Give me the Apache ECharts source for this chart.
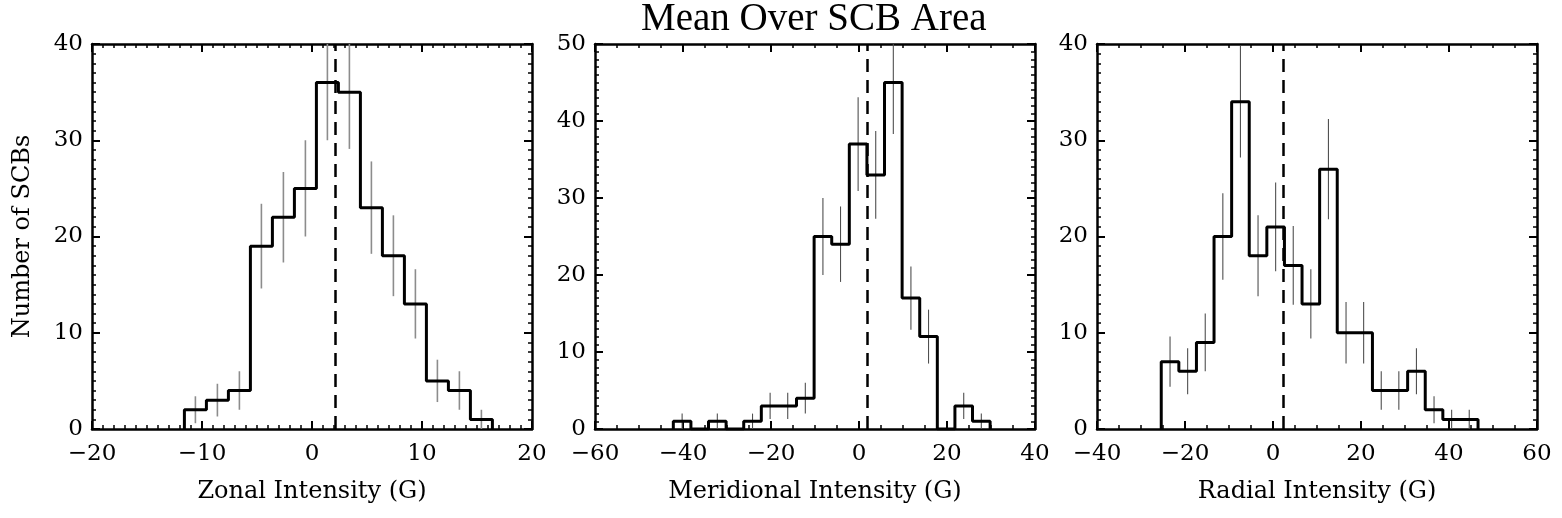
<!DOCTYPE html>
<html>
<head>
<meta charset="utf-8">
<script src="https://cdn.jsdelivr.net/npm/echarts@6/dist/echarts.min.js"></script>
<style>
  html, body { margin: 0; padding: 0; background: #fff; }
  #chart { width: 1562px; height: 518px; }
</style>
</head>
<body>
<div id="chart"></div>
<script>
// histogram bin edges, counts and error bar half-lengths
const zonalEdges = [-11.6, -9.6, -7.6, -5.6, -3.6, -1.6, 0.4, 2.4, 4.4, 6.4, 8.4, 10.4, 12.4, 14.4, 16.4];
const zonalCounts = [2, 3, 4, 19, 22, 25, 36, 35, 23, 18, 13, 5, 4, 1];
const zonalErr = [1.4, 1.7, 2.0, 4.4, 4.7, 5.0, 6.0, 5.9, 4.8, 4.2, 3.6, 2.2, 2.0, 1.0];

const meridEdges = [-42.2, -38.2, -34.2, -30.2, -26.2, -22.2, -18.2, -14.2, -10.2, -6.2, -2.2, 1.8, 5.8, 9.8, 13.8, 17.8, 21.8, 25.8, 29.8];
const meridCounts = [1, 0, 1, 0, 1, 3, 3, 4, 25, 24, 37, 33, 45, 17, 12, 0, 3, 1];
const meridErr = [1.0, 0, 1.0, 0, 1.0, 1.7, 1.7, 2.0, 5.0, 4.9, 6.1, 5.7, 6.7, 4.1, 3.5, 0, 1.7, 1.0];

const radEdges = [-25.4, -21.4, -17.4, -13.4, -9.4, -5.4, -1.4, 2.6, 6.6, 10.6, 14.6, 18.6, 22.6, 26.6, 30.6, 34.6, 38.6, 42.6, 46.6];
const radCounts = [7, 6, 9, 20, 34, 18, 21, 17, 13, 27, 10, 10, 4, 4, 6, 2, 1, 1];
const radErr = [2.6, 2.4, 3.0, 4.5, 5.8, 4.2, 4.6, 4.1, 3.6, 5.2, 3.2, 3.2, 2.0, 2.0, 2.4, 1.4, 1.0, 1.0];

// dashed line positions (mean values)
const meanLines = [2.1, 1.8, 2.4];

const xNames = ['Zonal Intensity (G)', 'Meridional Intensity (G)', 'Radial Intensity (G)'];
const xRanges = [[-20, 20, 10, 10], [-60, 40, 20, 4], [-40, 60, 20, 4]];   // min, max, interval, minor splits
const yRanges = [[0, 40, 10], [0, 50, 10], [0, 40, 10]];

const panels = [
    {edges: zonalEdges, counts: zonalCounts, err: zonalErr, barColor: '#8c8c8c', barWidth: 1.6},
    {edges: meridEdges, counts: meridCounts, err: meridErr, barColor: '#505050', barWidth: 1.1},
    {edges: radEdges, counts: radCounts, err: radErr, barColor: '#505050', barWidth: 1.1}
];

const gridLefts = [92, 595, 1097];
const FONT = 'DejaVu Serif';

const fmt = v => String(v).replace('-', '\u2212');

const chart = echarts.init(document.getElementById('chart'));

const grids = [], xAxes = [], yAxes = [], series = [];

panels.forEach((p, i) => {
    grids.push({left: gridLefts[i], top: 44, width: 440, height: 385, outerBoundsMode: 'none', containLabel: false});

    const [xmin, xmax, xint, xminor] = xRanges[i];
    const [ymin, ymax, yint] = yRanges[i];

    const tick = {show: true, inside: true, length: 8, lineStyle: {color: '#000', width: 2}};
    const minor = n => ({show: true, splitNumber: n, length: 4, lineStyle: {color: '#000', width: 1.5}});
    const line = {show: true, onZero: false, lineStyle: {color: '#000', width: 2.5}};

    // bottom + top x axes
    xAxes.push({
        type: 'value', gridIndex: i, position: 'bottom', min: xmin, max: xmax, interval: xint,
        axisLine: line, axisTick: tick, minorTick: minor(xminor), splitLine: {show: false},
        axisLabel: {show: true, showMinLabel: true, showMaxLabel: true, formatter: fmt,
            fontFamily: FONT, fontSize: 23, color: '#000', margin: 14},
        name: xNames[i], nameLocation: 'middle', nameGap: 51,
        nameTextStyle: {fontFamily: FONT, fontSize: 24, color: '#000'}
    });
    xAxes.push({
        type: 'value', gridIndex: i, position: 'top', min: xmin, max: xmax, interval: xint,
        axisLine: line, axisTick: tick, minorTick: minor(xminor), splitLine: {show: false},
        axisLabel: {show: false}
    });

    // left + right y axes
    const yLeft = {
        type: 'value', gridIndex: i, position: 'left', min: ymin, max: ymax, interval: yint,
        axisLine: line, axisTick: tick, minorTick: minor(10), splitLine: {show: false},
        axisLabel: {show: true, showMinLabel: true, showMaxLabel: true, formatter: fmt,
            fontFamily: FONT, fontSize: 23, color: '#000', margin: 9}
    };
    if (i === 0) {
        yLeft.name = 'Number of SCBs';
        yLeft.nameLocation = 'middle';
        yLeft.nameGap = 57;
        yLeft.nameTextStyle = {fontFamily: FONT, fontSize: 24, color: '#000'};
    }
    yAxes.push(yLeft);
    yAxes.push({
        type: 'value', gridIndex: i, position: 'right', min: ymin, max: ymax, interval: yint,
        axisLine: line, axisTick: tick, minorTick: minor(10), splitLine: {show: false},
        axisLabel: {show: false}
    });

    // step outline of the histogram
    const pts = [[p.edges[0], 0]];
    p.counts.forEach((c, k) => pts.push([p.edges[k], c]));
    pts.push([p.edges[p.edges.length - 1], p.counts[p.counts.length - 1]]);
    pts.push([p.edges[p.edges.length - 1], 0]);

    series.push({
        type: 'line', xAxisIndex: 2 * i, yAxisIndex: 2 * i, data: pts, step: 'end',
        symbol: 'none', clip: true, z: 3,
        lineStyle: {color: '#000', width: 3},
        markLine: {
            silent: true, symbol: ['none', 'none'], label: {show: false},
            lineStyle: {color: '#000', width: 2.5, type: [13, 8]},
            data: [{xAxis: meanLines[i]}]
        }
    });

    // error bars at bin centres
    const bars = [];
    p.counts.forEach((c, k) => {
        if (c > 0) {
            const xc = (p.edges[k] + p.edges[k + 1]) / 2;
            bars.push([xc, c - p.err[k], c + p.err[k]]);
        }
    });
    series.push({
        type: 'custom', xAxisIndex: 2 * i, yAxisIndex: 2 * i, data: bars, clip: true, z: 2,
        encode: {x: 0, y: [1, 2]},
        renderItem: (params, api) => {
            const a = api.coord([api.value(0), api.value(1)]);
            const b = api.coord([api.value(0), api.value(2)]);
            return {
                type: 'line',
                shape: {x1: a[0], y1: a[1], x2: b[0], y2: b[1]},
                style: {stroke: p.barColor, lineWidth: p.barWidth}
            };
        }
    });
});

const option = {
    animation: false,
    backgroundColor: '#fff',
    graphic: [{
        type: 'text', left: 641, top: 0,
        style: {text: 'Mean Over SCB Area', font: '39px "Liberation Serif"', fill: '#000'}
    }],
    grid: grids,
    xAxis: xAxes,
    yAxis: yAxes,
    series: series
};

chart.setOption(option);
</script>
</body>
</html>
